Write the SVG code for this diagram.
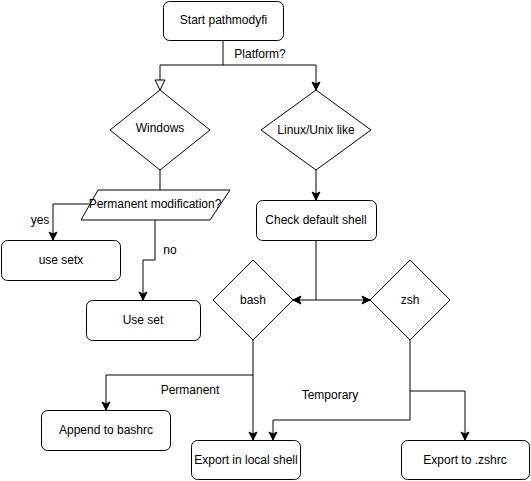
<svg xmlns="http://www.w3.org/2000/svg" width="531" height="481" viewBox="0 0 531 481">
<defs>
<style>
.n{fill:#fff;stroke:#000;stroke-width:1}
.t{font-family:"Liberation Sans",Arial,sans-serif;font-size:12px;fill:#000;text-anchor:middle;dominant-baseline:central}
.e{fill:none;stroke:#000;stroke-width:1}
.a{marker-end:url(#arr)}
</style>
<marker id="arr" viewBox="0 0 10 10" refX="9" refY="5" markerWidth="10" markerHeight="10" markerUnits="userSpaceOnUse" orient="auto">
<path d="M1,1 L9,5 L1,9 L3,5 z" fill="#000" stroke="#000" stroke-width="1"/>
</marker>
<marker id="open" viewBox="0 0 12 12" refX="11" refY="6" markerWidth="12" markerHeight="12" markerUnits="userSpaceOnUse" orient="auto">
<path d="M1,1 L11,6 L1,11 z" fill="#fff" stroke="#000" stroke-width="1"/>
</marker>
</defs>
<rect width="531" height="481" fill="#fff"/>
<g id="connectors">
<path class="e" d="M223,40 V65 H160 V90" marker-end="url(#open)"/>
<path class="e a" d="M223,65 H316 V90"/>
<text class="t" x="260" y="54">Platform?</text>
<path class="e" d="M160,170 V190"/>
<path class="e a" d="M316,170 V200"/>
<path class="e a" d="M89,204 H53 V240"/>
<text class="t" x="40" y="220">yes</text>
<path class="e a" d="M155,220 V260 H143 V300"/>
<text class="t" x="170" y="250">no</text>
<path class="e a" d="M316,240 V300 H293"/>
<path class="e a" d="M316,300 H370"/>
<path class="e a" d="M253,340 V375 H106 V410"/>
<path class="e a" d="M253,375 V440"/>
<text class="t" x="190" y="390">Permanent</text>
<path class="e a" d="M410,340 V420 H273 V440"/>
<path class="e a" d="M410,391 H465 V440"/>
<text class="t" x="330" y="395">Temporary</text>
</g>
<g id="start"><rect class="n" x="163.5" y="1.5" width="120" height="39" rx="6"/><text class="t" x="223.5" y="20">Start pathmodyfi</text></g>
<g id="windows"><polygon class="n" points="160,90 210,130 160,170 110,130"/><text class="t" x="160" y="128">Windows</text></g>
<g id="linux"><polygon class="n" points="316,90 371,130 316,170 261,130"/><text class="t" x="316" y="130">Linux/Unix like</text></g>
<g id="permanent"><polygon class="n" points="98,190 230,190 210,220 81,220"/><text class="t" x="155" y="204">Permanent modification?</text></g>
<g id="setx"><rect class="n" x="1.5" y="240.5" width="119" height="40" rx="6"/><text class="t" x="61" y="260">use setx</text></g>
<g id="set"><rect class="n" x="86.5" y="300.5" width="114" height="40" rx="6"/><text class="t" x="143" y="320">Use set</text></g>
<g id="check"><rect class="n" x="256.5" y="200.5" width="120" height="40" rx="6"/><text class="t" x="316" y="220">Check default shell</text></g>
<g id="bash"><polygon class="n" points="253,260 293,300 253,340 213,300"/><text class="t" x="253" y="300">bash</text></g>
<g id="zsh"><polygon class="n" points="410,260 450,300 410,340 370,300"/><text class="t" x="410" y="300">zsh</text></g>
<g id="bashrc"><rect class="n" x="41.5" y="410.5" width="129" height="40" rx="6"/><text class="t" x="106" y="430">Append to bashrc</text></g>
<g id="local"><rect class="n" x="191.5" y="440.5" width="109" height="39" rx="6"/><text class="t" x="246" y="460">Export in local shell</text></g>
<g id="zshrc"><rect class="n" x="401.5" y="440.5" width="128" height="39" rx="6"/><text class="t" x="465" y="460">Export to .zshrc</text></g>
</svg>
